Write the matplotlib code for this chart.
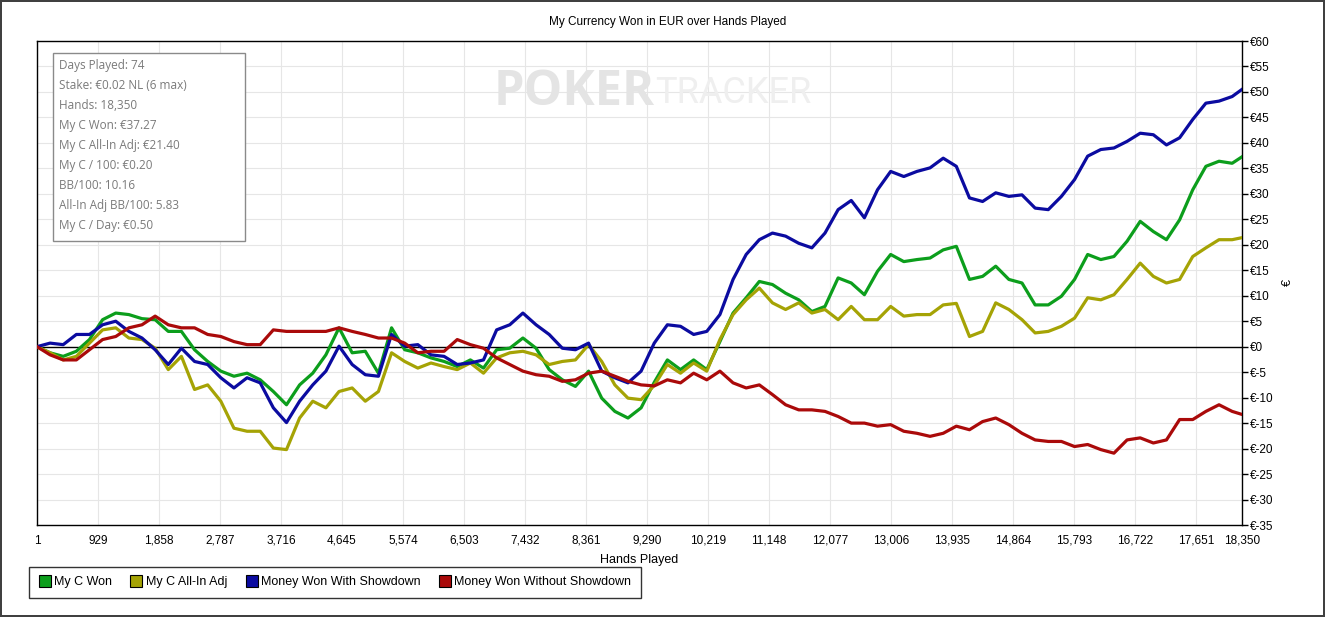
import matplotlib
matplotlib.use("Agg")
import matplotlib.pyplot as plt
from matplotlib.lines import Line2D
from matplotlib.patches import Rectangle

plt.rcParams['font.family'] = ['Liberation Sans', 'DejaVu Sans']

hands = [1] + list(range(200, 18201, 200)) + [18350]

my_c_won = [0, -1.2, -1.9, -0.9, 1.4, 5.3, 6.6, 6.3, 5.5, 5.3, 3.0, 3.0, -0.6, -2.9, -4.8, -5.8,
            -5.2, -6.5, -8.8, -11.4, -7.5, -5.2, -1.6, 3.7, -1.2, -0.9, -5.2, 3.7, -0.6, -1.2, -2.2, -2.9,
            -3.9, -2.6, -4.2, -0.6, -0.3, 1.7, -0.3, -4.5, -6.5, -7.8, -4.8, -10.1, -12.7, -14.0, -12.0, -7.0,
            -2.6, -4.5, -2.6, -4.5, 1.0, 6.6, 9.6, 12.8, 12.2, 10.5, 9.2, 6.9, 7.9, 13.5, 12.5,
            10.2, 14.8, 18.1, 16.7, 17.1, 17.4, 19.0, 19.7, 13.2, 13.8, 15.8, 13.2, 12.5, 8.2, 8.2,
            9.9, 13.2, 18.1, 17.1, 17.7, 20.7, 24.6, 22.6, 21.0, 24.9, 30.8, 35.4, 36.4, 36.0, 37.27]

my_c_allin_adj = [0, -1.2, -2.6, -1.9, 0.7, 3.3, 3.7, 1.7, 1.4, -0.3, -4.5, -1.9, -8.4, -7.5, -10.7, -16.0,
                  -16.6, -16.6, -19.9, -20.2, -14.0, -10.7, -12.0, -8.8, -8.1, -10.7, -8.8, -1.2, -2.9, -4.2, -3.2, -3.9,
                  -4.5, -3.2, -5.2, -2.2, -1.2, -0.9, -1.6, -3.5, -2.9, -2.6, 0.4, -2.9, -7.5, -10.1, -10.4, -7.6,
                  -3.5, -5.2, -3.2, -4.8, 1.4, 6.3, 9.2, 11.5, 8.6, 7.3, 8.6, 6.6, 7.3, 5.3, 7.9,
                  5.3, 5.3, 7.9, 6.0, 6.3, 6.3, 8.2, 8.5, 2.0, 3.0, 8.6, 7.3, 5.3, 2.7, 3.0,
                  4.0, 5.6, 9.6, 9.2, 10.2, 13.2, 16.4, 13.8, 12.5, 13.2, 17.7, 19.4, 21.0, 21.0, 21.40]

won_with_showdown = [0, 0.7, 0.4, 2.4, 2.4, 4.3, 5.0, 3.0, 1.7, -0.6, -3.5, -0.3, -2.9, -3.5, -6.1, -8.1,
                     -6.1, -7.1, -12.0, -14.9, -10.7, -7.5, -4.8, 0.1, -3.5, -5.5, -5.8, 2.4, 0.1, 0.4, -1.6, -1.9,
                     -3.5, -3.2, -2.6, 3.3, 4.3, 6.6, 4.3, 2.4, -0.3, -0.6, 0.7, -4.8, -6.1, -7.1, -4.8, 0.7,
                     4.3, 4.0, 2.4, 3.0, 6.3, 13.2, 18.1, 21.0, 22.3, 21.7, 20.3, 19.4, 22.3, 26.9, 28.7,
                     25.3, 30.8, 34.4, 33.4, 34.4, 35.1, 37.0, 35.4, 29.2, 28.5, 30.2, 29.5, 29.8, 27.2, 26.9,
                     29.5, 32.8, 37.4, 38.7, 39.0, 40.3, 41.9, 41.6, 39.6, 41.0, 44.6, 47.8, 48.2, 49.1, 50.5]

won_without_showdown = [0, -1.6, -2.6, -2.6, -0.6, 1.4, 2.0, 3.7, 4.3, 6.0, 4.3, 3.7, 3.7, 2.4, 2.0, 1.0,
                        0.4, 0.4, 3.3, 3.0, 3.0, 3.0, 3.0, 3.7, 3.0, 2.4, 1.7, 1.7, 0.7, -1.2, -0.9, -0.9,
                        1.4, 0.4, -0.3, -2.2, -3.5, -4.8, -5.5, -5.8, -6.8, -6.5, -5.2, -4.8, -5.8, -6.8, -7.5, -7.7,
                        -6.5, -7.1, -5.2, -6.5, -4.8, -7.1, -8.1, -7.5, -9.4, -11.4, -12.4, -12.4, -12.7, -13.7, -15.0,
                        -15.0, -15.6, -15.3, -16.6, -17.0, -17.6, -17.0, -15.6, -16.3, -14.7, -14.0, -15.3, -17.0, -18.3, -18.6,
                        -18.6, -19.6, -19.2, -20.2, -20.9, -18.3, -17.9, -18.9, -18.3, -14.3, -14.3, -12.7, -11.4, -12.7, -13.3]

series_names = ["My C Won", "My C All-In Adj", "Money Won With Showdown", "Money Won Without Showdown"]
series_colors = ["#0c9e1c", "#a5a305", "#0b0ba0", "#aa0a0a"]

x_ticks = [1, 929, 1858, 2787, 3716, 4645, 5574, 6503, 7432, 8361, 9290, 10219,
           11148, 12077, 13006, 13935, 14864, 15793, 16722, 17651, 18350]
y_ticks = list(range(-35, 61, 5))

info_lines = ["Days Played: 74", "Stake: €0.02 NL (6 max)", "Hands: 18,350", "My C Won: €37.27",
              "My C All-In Adj: €21.40", "My C / 100: €0.20", "BB/100: 10.16",
              "All-In Adj BB/100: 5.83", "My C / Day: €0.50"]

W, H = 1325, 617
fig = plt.figure(figsize=(W / 100, H / 100), dpi=100)
fig.patch.set_facecolor("white")
fig.patch.set_edgecolor("#404040")
fig.patch.set_linewidth(1.5)

ax = fig.add_axes([37 / W, 1 - 525 / H, (1242 - 37) / W, (525 - 41) / H])
ax.set_xlim(1, 18350)
ax.set_ylim(-35, 60)

ax.set_xticks(x_ticks)
ax.set_xticklabels([f"{t:,}" for t in x_ticks], fontsize=8.5)
ax.set_yticks(y_ticks)
ax.set_yticklabels([f"€{t}" for t in y_ticks], fontsize=8.5)
ax.yaxis.tick_right()
ax.yaxis.set_label_position("right")
ax.tick_params(axis="y", length=4, width=1, pad=2)
ax.tick_params(axis="x", length=0, pad=7)
ax.grid(True, color="#e6e6e6", linewidth=0.8)
ax.set_axisbelow(True)
for s in ax.spines.values():
    s.set_color("black")
    s.set_linewidth(1)

ax.axhline(0, color="black", linewidth=1, zorder=2)

# watermark
split = (655 - 37) / 1205
ax.text(split, 0.893, "POKER", transform=ax.transAxes, fontsize=35, fontweight="bold",
        color="#e4e4e4", ha="right", va="center", family="Open Sans", zorder=1)
ax.text(split, 0.893, "TRACKER", transform=ax.transAxes, fontsize=26,
        color="#efefef", ha="left", va="center", family="Roboto", zorder=1)

for vals, name, col in zip([my_c_won, my_c_allin_adj, won_with_showdown, won_without_showdown],
                           series_names, series_colors):
    ax.plot(hands, vals, color=col, linewidth=2.3, solid_joinstyle="round", zorder=3)

ax.set_xlabel("Hands Played", fontsize=9, labelpad=5)
ax.set_ylabel("€", fontsize=9, rotation=90, labelpad=6)

fig.text(0.504, 1 - 22 / H, "My Currency Won in EUR over Hands Played", ha="center", va="center", fontsize=8.5)

# info box
fig.patches.append(Rectangle((53 / W, 1 - 241 / H), (245 - 53) / W, (241 - 53) / H,
                             transform=fig.transFigure, fill=True, facecolor="white",
                             edgecolor="#8a8a8a", linewidth=1, zorder=5))
for i, line in enumerate(info_lines):
    fig.text(59 / W, 1 - (65.5 + 20 * i) / H, line, ha="left", va="center", fontsize=8.5,
             color="#7a7a7a", family="Open Sans", zorder=6)

handles = [Line2D([], [], linestyle="none", marker="s", markersize=8, markerfacecolor=c,
                  markeredgecolor="black", markeredgewidth=0.8) for c in series_colors]
leg = fig.legend(handles, series_names, loc="upper left", bbox_to_anchor=(29 / W, 1 - 567 / H),
                 ncol=4, frameon=True, fancybox=False, fontsize=9, handletextpad=0.25,
                 columnspacing=1.45, handlelength=1.0, borderpad=0.75, borderaxespad=0)
leg.get_frame().set_edgecolor("black")
leg.get_frame().set_linewidth(1)

fig.savefig("out.png", dpi=100, facecolor="white", edgecolor=fig.get_edgecolor())
